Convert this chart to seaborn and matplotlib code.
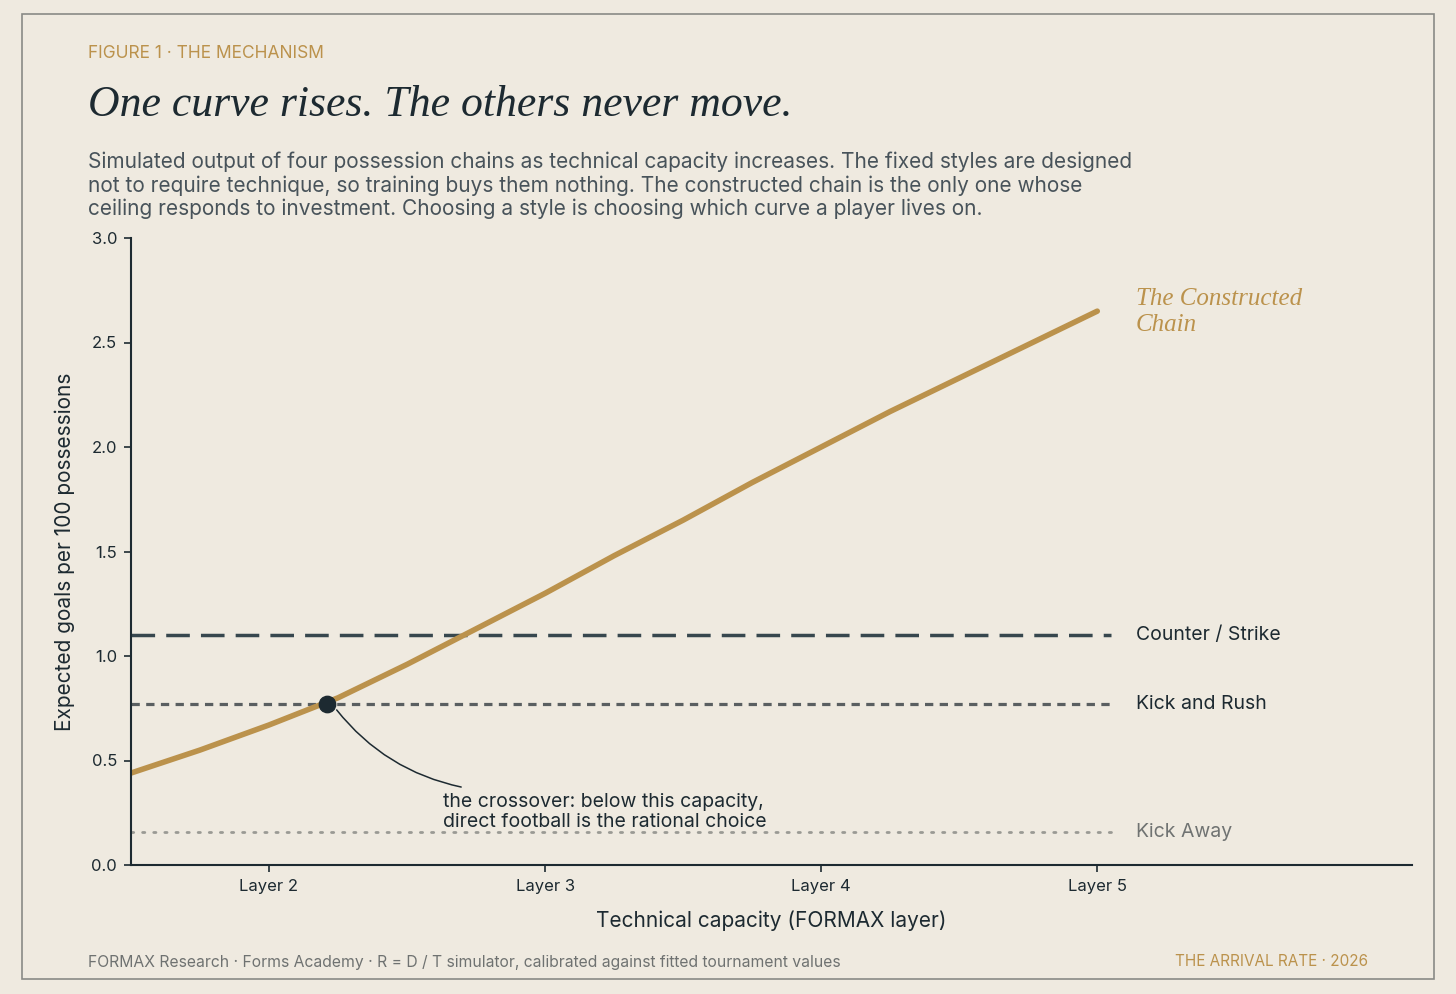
import numpy as np
import pandas as pd
import seaborn as sns
import matplotlib.pyplot as plt
from matplotlib.patches import Rectangle

# --- data ---
layer = [1.5, 1.75, 2.0, 2.25, 2.5, 2.75, 3.0, 3.25, 3.5, 3.75, 4.0, 4.25, 4.5, 4.75, 5.0]
constructed = [0.44, 0.55, 0.67, 0.80, 0.96, 1.13, 1.30, 1.48, 1.65, 1.83, 2.00, 2.17, 2.33, 2.49, 2.65]
flat_x = [1.5, 5.05]
counter_strike = 1.10
kick_and_rush = 0.77
kick_away = 0.16
crossover = (2.21, 0.77)
x_ticks = [2, 3, 4, 5]
x_tick_labels = ["Layer 2", "Layer 3", "Layer 4", "Layer 5"]
y_ticks = [0.0, 0.5, 1.0, 1.5, 2.0, 2.5, 3.0]

BG = "#efeae0"
GOLD = "#bb924c"
INK = "#1d2a31"
SLATE = "#37474e"
GREY = "#5a5f61"
LIGHT = "#9a9a94"
SANS = ["Inter", "DejaVu Sans"]
SERIF = ["Liberation Serif", "DejaVu Serif"]

sns.set_theme(style="white", rc={"axes.facecolor": BG, "figure.facecolor": BG})
plt.rcParams["font.family"] = SANS

fig = plt.figure(figsize=(14.56, 9.94), dpi=100)
ax = fig.add_axes([131 / 1456, 1 - 865 / 994, (1412 - 131) / 1456, (865 - 238) / 994])

df = pd.DataFrame({"layer": layer, "xg": constructed})
flat = pd.DataFrame({"layer": flat_x})

sns.lineplot(data=flat, x="layer", y=[kick_away] * 2, ax=ax, color=LIGHT, lw=2.0,
             linestyle=(0, (0.8, 3.2)), dash_capstyle="round")
sns.lineplot(data=flat, x="layer", y=[kick_and_rush] * 2, ax=ax, color=GREY, lw=2.3,
             linestyle=(0, (2.6, 2.0)))
sns.lineplot(data=flat, x="layer", y=[counter_strike] * 2, ax=ax, color=SLATE, lw=2.5,
             linestyle=(0, (6.8, 3.2)))
sns.lineplot(data=df, x="layer", y="xg", ax=ax, color=GOLD, lw=4.0)
sns.scatterplot(x=[crossover[0]], y=[crossover[1]], ax=ax, color=INK, s=140,
                edgecolor=INK, zorder=5)

ax.set_xlim(1.5, 6.14)
ax.set_ylim(0, 3.0)
ax.set_xticks(x_ticks)
ax.set_xticklabels(x_tick_labels)
ax.set_yticks(y_ticks)
ax.set_yticklabels([f"{v:.1f}" for v in y_ticks])
ax.tick_params(axis="both", direction="out", length=5, width=1.2, colors=INK,
               labelsize=12, pad=5, bottom=True, left=True)
for s in ["top", "right"]:
    ax.spines[s].set_visible(False)
for s in ["left", "bottom"]:
    ax.spines[s].set_color(INK)
    ax.spines[s].set_linewidth(1.5)
ax.set_xlabel("Technical capacity (FORMAX layer)", fontsize=15, color=INK, labelpad=12)
ax.set_ylabel("Expected goals per 100 possessions", fontsize=15, color=INK, labelpad=12)

# line labels
ax.text(5.14, 2.645, "The Constructed\nChain", family=SERIF, style="italic",
        fontsize=18, color=GOLD, va="center", ha="left", linespacing=1.2)
ax.text(5.14, counter_strike, "Counter / Strike", fontsize=14, color=INK, va="center")
ax.text(5.14, kick_and_rush, "Kick and Rush", fontsize=14, color=INK, va="center")
ax.text(5.14, kick_away, "Kick Away", fontsize=14, color="#707372", va="center")

ax.annotate("", xy=(2.245, 0.742), xytext=(2.696, 0.373),
            arrowprops=dict(arrowstyle="-", color=INK, lw=1.1,
                            connectionstyle="arc3,rad=-0.18", shrinkA=0, shrinkB=0))
ax.text(2.63, 0.255, "the crossover: below this capacity,\ndirect football is the rational choice",
        fontsize=14, color=INK, va="center", ha="left", linespacing=1.13)

# header
fig.text(88 / 1456, 1 - 53 / 994, "FIGURE 1 · THE MECHANISM", fontsize=12.5, color=GOLD, va="center")
fig.text(88 / 1456, 1 - 105 / 994, "One curve rises. The others never move.", family=SERIF,
         style="italic", fontsize=31.5, color=INK, va="center")
fig.text(88 / 1456, 1 - 152 / 994,
         "Simulated output of four possession chains as technical capacity increases. The fixed styles are designed\n"
         "not to require technique, so training buys them nothing. The constructed chain is the only one whose\n"
         "ceiling responds to investment. Choosing a style is choosing which curve a player lives on.",
         fontsize=15, color="#48535a", va="top", linespacing=1.18)

# footer
fig.text(88 / 1456, 1 - 962 / 994,
         "FORMAX Research · Forms Academy · R = D / T simulator, calibrated against fitted tournament values",
         fontsize=11.3, color="#6f7271", va="center")
fig.text(1368 / 1456, 1 - 962 / 994, "THE ARRIVAL RATE · 2026", fontsize=11, color=GOLD,
         va="center", ha="right")

fig.patches.append(Rectangle((22 / 1456, 1 - 979 / 994), (1434 - 22) / 1456, (979 - 14) / 994,
                             transform=fig.transFigure, fill=False, edgecolor="#8a8a86", lw=1.2))

fig.savefig("out.png", dpi=100, facecolor=BG)
